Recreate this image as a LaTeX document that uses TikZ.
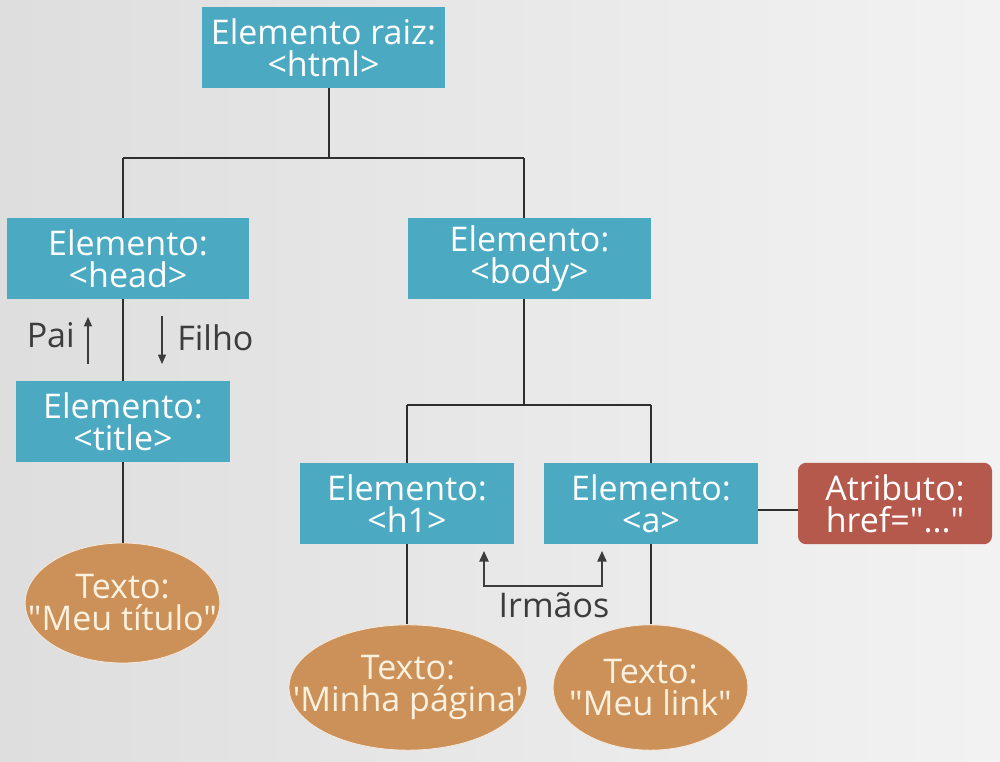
\documentclass[tikz,border=0pt]{standalone}
\usepackage{fontspec}
\newfontfamily\osans{Open Sans}
\usetikzlibrary{shapes.geometric,arrows.meta}
\definecolor{teal}{HTML}{4BA9C2}
\definecolor{ocre}{HTML}{CC9158}
\definecolor{tijolo}{HTML}{B5594C}
\definecolor{linha}{HTML}{2E2E2E}
\definecolor{cinza}{HTML}{3C3C3C}
\definecolor{creme}{HTML}{FBF1E0}
\tikzset{
  big/.style={font=\osans\fontsize{25.5}{24}\selectfont},
  elbox/.style={big, fill=teal, text=white, align=center, inner sep=0pt},
  txtell/.style={ellipse, fill=ocre, draw=white!80!ocre, line width=0.6pt, inner sep=0pt},
  elltext/.style={big, text=creme, align=center, inner sep=0pt},
  attrbox/.style={big, fill=tijolo, rounded corners=6pt, text=white, align=center, inner sep=0pt},
  conn/.style={draw=linha, line width=1.7pt},
  lbl/.style={text=cinza, font=\osans\fontsize{25.5}{24}\selectfont, inner sep=0pt},
  thinarr/.style={draw=cinza, line width=0.9pt, -{Triangle[length=7pt,width=6pt]}},
  sibarr/.style={draw=cinza, line width=1.2pt, {Triangle[length=8pt,width=7pt]}-{Triangle[length=8pt,width=7pt]}}
}
\begin{document}
\begin{tikzpicture}[x=0.75pt,y=-0.75pt]
\shade[left color=black!13, right color=black!5] (0,0) rectangle (1000,762);
\useasboundingbox (0,0) rectangle (1000,762);
% boxes
\node[elbox, minimum width=182pt, minimum height=61pt] (html) at (323.5,47.5) {Elemento raiz:\\<html>};
\node[elbox, minimum width=182pt, minimum height=61pt] (head) at (128,258.5) {Elemento:\\<head>};
\node[elbox, minimum width=182pt, minimum height=61pt] (body) at (529.5,258.5) {Elemento:\\<body>};
\node[elbox, minimum width=160.5pt, minimum height=61pt] (title) at (123,421.5) {Elemento:\\<title>};
\node[elbox, minimum width=160.5pt, minimum height=61pt] (h1) at (407,503.5) {Elemento:\\<h1>};
\node[elbox, minimum width=160.5pt, minimum height=61pt] (a) at (651,503.5) {Elemento:\\<a>};
\node[attrbox, minimum width=145.5pt, minimum height=61pt] (attr) at (895,503.5) {Atributo:\\href="..."};
% ellipses
\node[txtell, minimum width=146pt, minimum height=90pt] (ttit) at (122.5,603) {};
\node[elltext] (ttitt) at (ttit.center) {Texto:\\"Meu título"};
\node[txtell, minimum width=178.5pt, minimum height=94pt] (tmin) at (408,687.5) {};
\node[elltext] (tmint) at (tmin.center) {Texto:\\'Minha página'};
\node[txtell, minimum width=146pt, minimum height=94pt] (tlink) at (650.5,687.5) {};
\node[elltext] (tlinkt) at (tlink.center) {Texto:\\"Meu link"};
% junction coordinates
\coordinate (j1) at (329,158);
\coordinate (j2) at (524,405);
% connectors
\draw[conn] (html.south -| j1) -- (j1);
\draw[conn] (123,158) -- (524,158);
\draw[conn] (123,158) -- (head.north -| 123,0);
\draw[conn] (524,158) -- (body.north -| 524,0);
\draw[conn] (head.south -| 123,0) -- (title.north -| 123,0);
\draw[conn] (title.south -| 123,0) -- (ttit.north -| 123,0);
\draw[conn] (body.south -| j2) -- (j2);
\draw[conn] (407,405) -- (651,405);
\draw[conn] (407,405) -- (h1.north -| 407,0);
\draw[conn] (651,405) -- (a.north -| 651,0);
\draw[conn] (h1.south -| 407,0) -- (tmin.north -| 407,0);
\draw[conn] (a.south -| 651,0) -- (tlink.north -| 651,0);
\draw[conn] (a.east |- 0,510) -- (attr.west |- 0,510);
% Pai / Filho
\coordinate (paiA) at (88,364);
\coordinate (paiB) at (88,317);
\coordinate (filA) at (162,316);
\coordinate (filB) at (162,364);
\draw[thinarr] (paiA) -- (paiB);
\draw[thinarr] (filA) -- (filB);
\node[lbl, anchor=east] (pai) at (75,335) {Pai};
\node[lbl, anchor=west] (filho) at (177,338) {Filho};
% Irmaos
\coordinate (irA) at (484,551);
\coordinate (irB) at (602,551);
\draw[sibarr] (irA) -- (484,586) -- (602,586) -- (irB);
\node[lbl] (irm) at (554,605) {Irmãos};
\end{tikzpicture}
\end{document}
